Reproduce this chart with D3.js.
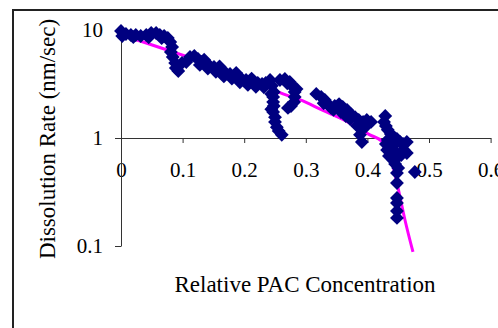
<!DOCTYPE html>
<html>
<head>
<meta charset="utf-8">
<script src="https://cdn.jsdelivr.net/npm/d3@7"></script>
<style>
  body { margin: 0; background: #fff; }
  svg { display: block; }
  text { font-family: "Liberation Serif", "Times New Roman", serif; fill: #000; }
</style>
</head>
<body>
<svg id="chart" width="498" height="328"></svg>
<script>
// Measured points, [relative PAC concentration, dissolution rate in nm/sec]
const startRun = [
  [0, 9.79], [0.002, 8.80], [0.008, 9.18], [0.016, 8.99], [0.024, 8.99],
  [0.032, 8.80], [0.041, 8.99], [0.049, 9.38], [0.057, 9.38], [0.063, 8.99],
  [0.070, 8.80], [0.076, 8.43], [0.080, 7.74], [0.083, 6.96], [0.081, 6.26],
  [0.084, 5.62], [0.088, 4.95], [0.089, 4.45], [0.093, 4.17], [0.099, 4.95],
  [0.106, 5.05], [0.112, 5.62], [0.119, 5.74], [0.125, 5.39], [0.131, 5.05],
  [0.138, 4.95], [0.144, 4.64], [0.151, 4.54], [0.157, 4.26], [0.164, 4.08],
  [0.170, 4.00], [0.177, 3.91], [0.183, 3.75], [0.190, 3.67], [0.196, 3.52],
  [0.203, 3.44], [0.209, 3.30], [0.216, 3.30], [0.222, 3.23], [0.229, 3.16],
  [0.235, 3.23], [0.242, 3.44],
  [0.020, 8.60], [0.045, 8.55], [0.066, 8.40], [0.128, 4.75], [0.141, 4.40],
  [0.154, 4.10], [0.167, 3.72], [0.180, 3.55], [0.193, 3.28], [0.206, 3.10],
  [0.219, 2.98], [0.232, 2.95], [0.245, 3.05], [0.135, 5.30], [0.160, 4.60],
  [0.187, 4.00], [0.212, 3.55]
];
const dropStrip = [
  [0.248, 2.67], [0.247, 2.40], [0.247, 2.15], [0.248, 1.98], [0.247, 1.74],
  [0.250, 1.56], [0.250, 1.41], [0.253, 1.26], [0.256, 1.16], [0.261, 1.07],
  [0.244, 2.55], [0.244, 1.85]
];
const hookRun = [
  [0.258, 3.44], [0.266, 3.52], [0.274, 3.30], [0.279, 2.97], [0.282, 2.67],
  [0.282, 2.40], [0.281, 2.15], [0.276, 1.98], [0.271, 1.90], [0.270, 3.20],
  [0.285, 2.85]
];
const midCluster = [
  [0.317, 2.56], [0.325, 2.40], [0.331, 2.25], [0.336, 2.06], [0.341, 1.90],
  [0.347, 1.98], [0.354, 2.06], [0.360, 1.94], [0.367, 1.82], [0.373, 1.67],
  [0.380, 1.56], [0.386, 1.47], [0.393, 1.41], [0.399, 1.47], [0.406, 1.41],
  [0.398, 1.29], [0.391, 1.19], [0.388, 1.07], [0.391, 0.918],
  [0.329, 2.10], [0.345, 1.82], [0.357, 1.74], [0.365, 1.60], [0.372, 1.50],
  [0.383, 1.30], [0.395, 1.30]
];
const endCluster = [
  [0.429, 1.60], [0.427, 1.41], [0.430, 1.29], [0.433, 1.19], [0.438, 1.09],
  [0.443, 1.02], [0.448, 0.979], [0.453, 0.918], [0.458, 0.880], [0.459, 0.774],
  [0.455, 0.696], [0.448, 0.653], [0.442, 0.626], [0.435, 0.681], [0.432, 0.774],
  [0.430, 0.880], [0.433, 0.958], [0.440, 0.825], [0.446, 0.742], [0.445, 0.574],
  [0.450, 0.528], [0.448, 0.474], [0.464, 0.918], [0.464, 0.726],
  [0.448, 0.383], [0.448, 0.278], [0.448, 0.250], [0.448, 0.211], [0.448, 0.182],
  [0.477, 0.484]
];

// Fitted curve
const fitX = [0, 0.036, 0.075, 0.104, 0.170, 0.237, 0.263, 0.291, 0.326, 0.365,
              0.404, 0.425, 0.437, 0.448, 0.461, 0.474];
const fitY = [8.99, 7.74, 6.53, 5.74, 4.17, 2.97, 2.56, 2.25, 1.82, 1.44,
              1.07, 0.918, 0.681, 0.383, 0.174, 0.088];

const xTicks = [0, 0.1, 0.2, 0.3, 0.4, 0.5, 0.6];
const yTicks = [0.1, 1, 10];

const svg = d3.select('#chart');

// Outer chart frame (runs off the right and bottom edges)
svg.append('rect')
  .attr('x', 13).attr('y', 10)
  .attr('width', 520).attr('height', 340)
  .attr('fill', 'none')
  .attr('stroke', '#222')
  .attr('stroke-width', 2);

const x = d3.scaleLinear().domain([0, 0.6]).range([121, 490.6]);
const y = d3.scaleLog().domain([0.1, 10]).range([246, 30]);

// Axes: x axis crosses at rate = 1
svg.append('g')
  .attr('transform', `translate(0,${y(1)})`)
  .call(d3.axisBottom(x)
    .tickValues(xTicks)
    .tickSize(5)
    .tickSizeOuter(0)
    .tickPadding(19)
    .tickFormat(d => d === 0 ? '0' : d3.format('.1f')(d)));

svg.append('g')
  .attr('transform', `translate(${x(0)},0)`)
  .call(d3.axisLeft(y)
    .tickValues(yTicks)
    .tickSize(6)
    .tickSizeOuter(0)
    .tickPadding(12)
    .tickFormat(d => d < 1 ? '0.1' : String(d)));

svg.selectAll('.domain, .tick line')
  .attr('stroke', '#333')
  .attr('stroke-width', 1);

svg.selectAll('.tick text')
  .style('font-family', '"Liberation Serif", "Times New Roman", serif')
  .style('font-size', '21px')
  .attr('fill', '#000');

// Fit line (drawn under the markers)
const fitData = fitX.map((v, i) => [v, fitY[i]]);
svg.append('path')
  .datum(fitData)
  .attr('fill', 'none')
  .attr('stroke', '#ff00ff')
  .attr('stroke-width', 3)
  .attr('d', d3.line()
    .x(d => x(d[0]))
    .y(d => y(d[1]))
    .curve(d3.curveMonotoneX));

// Markers
const allPoints = [].concat(startRun, dropStrip, hookRun, midCluster, endCluster);
const diamond = d3.symbol().type(d3.symbolSquare).size(96);
svg.append('g')
  .selectAll('path')
  .data(allPoints)
  .join('path')
  .attr('d', diamond)
  .attr('transform', d => `translate(${x(d[0])},${y(d[1])}) rotate(45)`)
  .attr('fill', '#000080');

// Axis titles
svg.append('text')
  .attr('x', 305).attr('y', 292)
  .attr('text-anchor', 'middle')
  .style('font-size', '23px')
  .text('Relative PAC Concentration');

svg.append('text')
  .attr('transform', 'translate(55,139) rotate(-90)')
  .attr('text-anchor', 'middle')
  .style('font-size', '23px')
  .text('Dissolution Rate (nm/sec)');
</script>
</body>
</html>
